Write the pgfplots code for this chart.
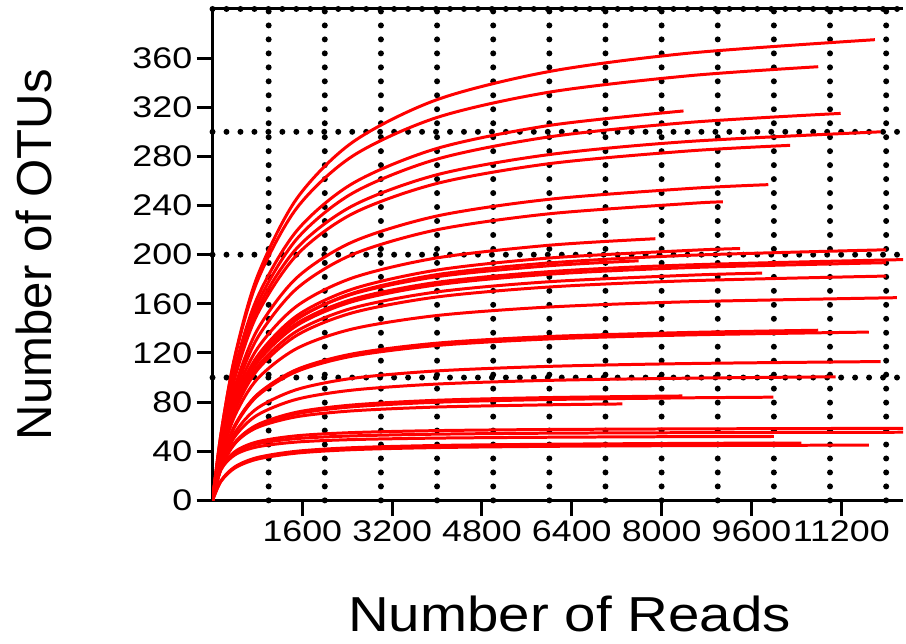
\documentclass[border=0pt]{standalone}
\usepackage{fontspec}
\setmainfont{Liberation Sans}
\newfontfamily\tickfont[FakeStretch=1.2]{Liberation Sans}
\newfontfamily\xlabfont[FakeStretch=1.15]{Liberation Sans}
\usepackage{pgfplots}
\pgfplotsset{compat=1.18}
\begin{document}
\begin{tikzpicture}
\begin{axis}[
  scale only axis, width=346bp, height=246.25bp,
  xmin=0, xmax=12300, ymin=0, ymax=400,
  axis x line=box, axis y line=left,
  y axis line style={-},
  axis line style={black, line width=1.5bp},
  xtick pos=left, xticklabel pos=left,
  tick align=outside,
  major tick length=8bp,
  every tick/.style={black, line width=1.5bp},
  xtick={1600,3200,4800,6400,8000,9600,11200},
  ytick={0,40,...,360},
  minor xtick={1000,2000,3000,4000,5000,6000,7000,8000,9000,10000,11000,12000},
  minor ytick={100,200,300,400},
  minor tick length=0pt,
  xminorgrids=true, yminorgrids=true,
  minor grid style={black, line width=3bp, line cap=round, dash pattern=on 0pt off 7bp},
  ticklabel style={font=\tickfont\fontsize{15}{18}\selectfont, inner sep=2pt},
  /pgf/number format/assume math mode=true,
  /pgf/number format/1000 sep={},
  scaled x ticks=false,
  xlabel={Number of Reads}, ylabel={Number of OTUs},
  xlabel style={font=\xlabfont\fontsize{24.7}{28}\selectfont, at={(axis description cs:0.517,-0.232)}, anchor=center},
  ylabel style={font=\fontsize{24.7}{28}\selectfont, at={(axis description cs:-0.259,0.5)}, anchor=center},
  cycle list={red,solid,line width=1.5bp,smooth,mark=none\\},
]
\addplot coordinates {(0,0)(150,53.9)(400,117.7)(800,182.5)(1500,245.6)(2500,291.7)(4000,326.2)(6000,349.1)(8500,364.1)(11800,375)};
\addplot coordinates {(0,0)(150,54.0)(400,116.6)(800,178.7)(1500,237.9)(2500,280.4)(4000,311.7)(6000,332.3)(8500,345.7)(10790,353)};
\addplot coordinates {(0,0)(150,50.2)(400,108.0)(800,165.2)(1500,219.4)(2500,258.1)(4000,286.5)(6000,305.2)(8390,317)};
\addplot coordinates {(0,0)(150,48.6)(400,104.7)(800,160.1)(1500,212.7)(2500,250.2)(4000,277.8)(6000,295.9)(8500,307.7)(11190,315)};
\addplot coordinates {(0,0)(150,48.2)(400,102.8)(800,155.8)(1500,205.2)(2500,239.9)(4000,265.1)(6000,281.5)(8500,292.2)(11900,300)};
\addplot coordinates {(0,0)(150,46.9)(400,100.1)(800,151.7)(1500,199.7)(2500,233.5)(4000,258.0)(6000,274.1)(8500,284.5)(10290,289)};
\addplot coordinates {(0,0)(150,43.9)(400,92.6)(800,138.9)(1500,181.2)(2500,210.5)(4000,231.5)(6000,245.1)(8500,253.9)(9900,257)};
\addplot coordinates {(0,0)(150,41.7)(400,88.1)(800,132.2)(1500,172.4)(2500,200.3)(4000,220.3)(6000,233.3)(8500,241.7)(9090,243)};
\addplot coordinates {(0,0)(150,40.9)(400,84.3)(800,123.7)(1500,158.1)(2500,181.2)(4000,197.4)(6000,207.7)(7890,213)};
\addplot coordinates {(0,0)(150,38.9)(400,80.1)(800,117.5)(1500,150.2)(2500,172.1)(4000,187.5)(6000,197.3)(8500,203.5)(9400,205)};
\addplot coordinates {(0,0)(150,38.1)(400,78.5)(800,115.1)(1500,147.2)(2500,168.7)(4000,183.8)(6000,193.3)(8500,199.5)(12000,204)};
\addplot coordinates {(0,0)(150,38.7)(400,78.6)(800,113.9)(1500,144.0)(2500,163.8)(4000,177.5)(6000,186.2)(8500,191.7)(12600,196.3)};
\addplot coordinates {(0,0)(150,39.7)(400,80.7)(800,116.8)(1500,147.7)(2500,168.0)(4000,182.1)(6000,191.0)(7590,195)};
\addplot coordinates {(0,0)(150,38.3)(400,77.7)(800,112.5)(1500,142.3)(2500,161.9)(4000,175.5)(6000,184.1)(8500,189.5)(12000,193.5)};
\addplot coordinates {(0,0)(150,37.0)(400,75.2)(800,108.9)(1500,137.7)(2500,156.6)(4000,169.7)(6000,178.0)(8500,183.3)(9790,185)};
\addplot coordinates {(0,0)(150,36.1)(400,73.3)(800,106.2)(1500,134.3)(2500,152.8)(4000,165.6)(6000,173.7)(8500,178.8)(12000,182.6)};
\addplot coordinates {(0,0)(150,34.6)(400,69.2)(800,98.9)(1500,123.6)(2500,139.6)(4000,150.5)(6000,157.4)(8500,161.7)(12190,165)};
\addplot coordinates {(0,0)(150,31.0)(400,61.0)(800,85.8)(1500,106.0)(2500,118.7)(4000,127.3)(6180,133)};
\addplot coordinates {(0,0)(150,31.2)(400,61.3)(800,86.3)(1500,106.5)(2500,119.3)(4000,128.0)(6000,133.4)(8500,136.7)(10790,138.5)};
\addplot coordinates {(0,0)(150,30.7)(400,60.4)(800,85.0)(1500,104.9)(2500,117.5)(4000,126.1)(6000,131.4)(8500,134.7)(11690,137)};
\addplot coordinates {(0,0)(150,29.3)(400,55.2)(800,75.1)(1500,90.2)(2500,99.4)(4000,105.4)(6000,109.1)(8500,111.4)(11900,113)};
\addplot coordinates {(0,0)(150,28.4)(400,52.1)(800,69.5)(1500,82.3)(2500,89.8)(4000,94.7)(6000,97.7)(8500,99.5)(11100,100.6)};
\addplot coordinates {(0,0)(150,26.1)(400,46.3)(800,60.5)(1500,70.5)(2500,76.2)(4000,79.9)(6000,82.1)(8500,83.5)(9990,84)};
\addplot coordinates {(0,0)(150,26.6)(400,47.3)(800,61.6)(1500,71.8)(2500,77.7)(4000,81.5)(6000,83.7)(8370,85)};
\addplot coordinates {(0,0)(150,27.2)(400,46.7)(800,59.4)(1500,68.1)(2500,72.9)(4000,76.0)(6000,77.8)(7300,78.5)};
\addplot coordinates {(0,0)(150,25.5)(400,39.7)(800,47.7)(1500,52.6)(2500,55.2)(4000,56.8)(6000,57.7)(8500,58.2)(12600,58.7)};
\addplot coordinates {(0,0)(150,16.0)(400,27.4)(800,34.9)(1500,40.0)(2500,42.9)(4000,44.7)(6000,45.7)(8500,46.4)(10490,46.7)};
\addplot coordinates {(0,0)(150,15.4)(400,26.4)(800,33.6)(1500,38.5)(2500,41.3)(4000,43.0)(6000,44.0)(8500,44.6)(11690,45)};
\addplot coordinates {(0,0)(150,25.6)(400,38.8)(800,46.0)(1500,50.3)(2500,52.5)(4000,53.9)(6000,54.7)(8500,55.1)(12600,55.5)};
\addplot coordinates {(0,0)(150,24.8)(400,37.1)(800,43.6)(1500,47.5)(2500,49.5)(4000,50.7)(6000,51.4)(8500,51.9)(10000,52)};
\coordinate (bbl) at (rel axis cs:-0.3078,-0.2914);
\coordinate (btr) at (rel axis cs:1.0014,1.0183);
\end{axis}
\path (bbl) rectangle (btr);
\end{tikzpicture}
\end{document}
